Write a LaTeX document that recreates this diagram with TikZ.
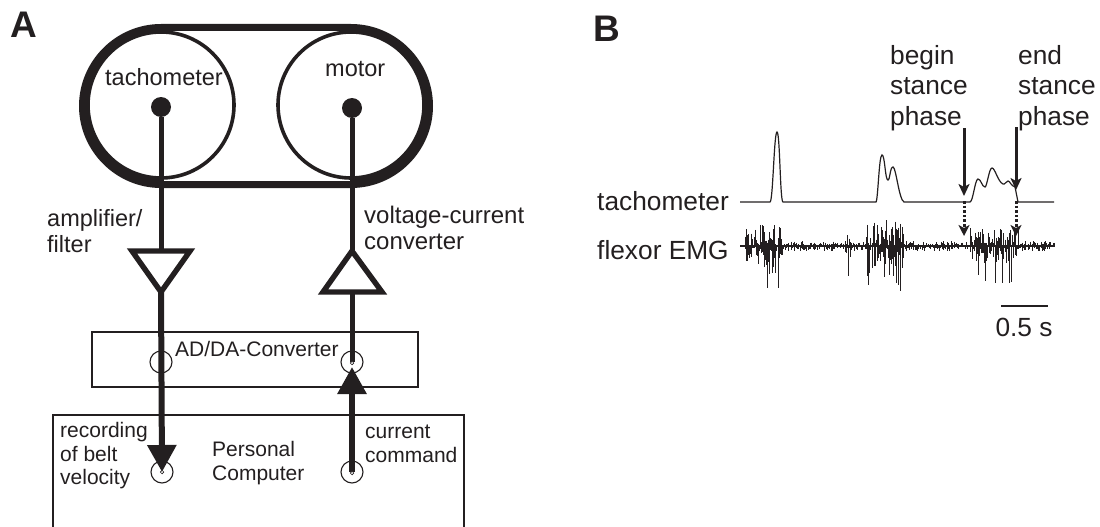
\documentclass[tikz,border=0pt]{standalone}
\usepackage{fontspec}
\setmainfont{Liberation Sans}
\usetikzlibrary{arrows.meta}
\definecolor{ink}{HTML}{231F20}

\begin{document}
\begin{tikzpicture}[x=1pt,y=-1pt,color=ink,
  pulley/.style={circle,draw,fill=white,line width=3.6pt,minimum size=146pt,inner sep=0pt},
  hub/.style={circle,fill,minimum size=20pt,inner sep=0pt},
  jack/.style={circle,draw,line width=1.1pt,minimum size=22pt,inner sep=0pt},
  pin/.style={circle,draw,fill=white,line width=.7pt,minimum size=3.5pt,inner sep=0pt},
  box line/.style={line width=2.4pt},
  amp/.style={line width=5.4pt,miter limit=4},
  wire/.style={line width=5pt},
  big tip/.style={-{Triangle[length=27pt,width=28pt]}},
  small tip/.style={-{Stealth[length=12pt,width=11pt,inset=3pt]},line width=3pt},
  dot tip/.style={-{Stealth[length=11pt,width=11pt,inset=3pt]},line width=3pt,dash pattern=on 2.6pt off 2pt},
  label/.style={inner sep=0pt,anchor=west,align=left,font=\fontsize{21}{23.5}\selectfont},
  big label/.style={label,font=\fontsize{23.5}{26}\selectfont},
  trace label/.style={inner sep=0pt,anchor=west,align=left,font=\fontsize{26.3}{30.5}\selectfont},
  panel/.style={inner sep=0pt,font=\fontsize{37}{37}\selectfont\bfseries}]
  \useasboundingbox (0,0) rectangle (1100,527);

  % panel A
  \node[panel] (A) at (24,25) {A};
  \node[panel] (B) at (607,29) {B};

  \fill (161,24) -- (351,24) .. controls (396,24) and (433,61) .. (433,106)
    .. controls (433,151) and (396,188) .. (351,188) -- (161,188)
    .. controls (116,188) and (79,151) .. (79,106) .. controls (79,61) and (116,24) .. (161,24) -- cycle;
  \fill[white] (161,31.5) rectangle (351,180.5);
  \node[pulley] (tachpulley) at (161,105) {};
  \node[pulley] (motorpulley) at (351,105) {};
  \node[hub] (tachhub) at (161,107) {};
  \node[hub] (motorhub) at (352,108) {};
  \node[big label] (tachlabel) at (105,77) {tachometer};
  \node[big label] (motorlabel) at (325,69) {motor};

  \coordinate (ampin) at (161,251);
  \coordinate (ampout) at (161,292);
  \coordinate (vccin) at (352,292);
  \coordinate (vccout) at (352,251);
  \draw[amp] (132,251) -- (190,251) -- (ampout) -- cycle;
  \draw[amp] (323,292) -- (382,292) -- (vccout) -- cycle;
  \node[big label] (amplabel) at (47,231) {amplifier/\\filter};
  \node[big label,font=\fontsize{24}{26}\selectfont] (vcclabel) at (364,228) {voltage-current\\converter};

  \draw[box line] (92,332) rectangle (418,387);
  \draw[box line] (53,527) -- (53,415) -- (464,415) -- (464,527);
  \node[label] (adlabel) at (175,349) {AD/DA-Converter};
  \node[label] (reclabel) at (60,456) {recording\\of belt\\velocity};
  \node[label] (pclabel) at (212,463) {Personal\\Computer};
  \node[label] (cmdlabel) at (365,444) {current\\command};

  \node[jack] (adin) at (161,362) {};
  \node[jack] (adout) at (352,362) {};
  \node[jack] (pcin) at (162,472) {};
  \node[jack] (pcout) at (352,472) {};

  \draw[wire] (tachhub) -- (ampin);
  \draw[wire] (motorhub) -- (vccout);
  \draw[wire,line width=6pt,big tip] (ampout) -- (pcin.center);
  \draw[wire] (vccin) -- (adout.center);
  \draw[wire,line width=6pt,big tip] (pcout.center) -- (352,367);
  \node[pin] (adoutpin) at (352,363) {};
  \node[pin] (pcinpin) at (162,472) {};
  \node[pin] (pcoutpin) at (352,473) {};

  % panel B
  \node[trace label] (tachtrace) at (597,201) {tachometer};
  \node[trace label] (emgtrace) at (597,250) {flexor EMG};
  \node[trace label] (beginlabel) at (890,88) {begin\\stance\\phase};
  \node[trace label] (endlabel) at (1018,88) {end\\stance\\phase};

  \draw[line width=1.2pt] (740,202) -- (770,202) .. controls (773,202) and (774,132) .. (777,132)
    .. controls (780,132) and (780,202) .. (783,202) -- (876,202)
    .. controls (878,200) and (879,155) .. (882,155) .. controls (885,155) and (885,180) .. (888,180)
    .. controls (890,180) and (890,167) .. (893,167) .. controls (896,167) and (899,200) .. (904,202)
    -- (970,202) .. controls (973,202) and (975,179) .. (978,179) .. controls (981,179) and (982,187) .. (985,187)
    .. controls (987,187) and (989,168) .. (992,168) .. controls (995,168) and (998,182) .. (1003,184)
    .. controls (1005,185) and (1006,181) .. (1008,181) .. controls (1010,181) and (1011,186) .. (1015,187)
    -- (1018,202) -- (1054,202);

  \pgfmathsetseed{41}
  \draw[line width=1.8pt] (740,246) -- (1054,246);
  \foreach \bx/\ex/\amp in {745/782/22,782/845/5,845/850/12,850/866/5,866/903/27,903/970/5,970/1018/18,1018/1054/5}
    \foreach \x in {\bx,...,\ex} {
      \pgfmathsetmacro{\up}{246-\amp*rnd^1.4}
      \pgfmathsetmacro{\dn}{246+\amp*rnd^1.4}
      \draw[line width=.9pt] (\x,\up) -- (\x,\dn);
    }
  \foreach \x/\dn in {749/258,767/288,769/274,772/273,775/273,778/288,
    848/276,867/276,868/285,875/266,884/277,889/275,893/276,
    896/283,898/285,900/291,978/275,985/281,995/283,1002/283,1009/283,1011/282}
    \draw[line width=1pt] (\x,246) -- (\x,\dn);

  \coordinate (beginfrom) at (964,128);
  \coordinate (beginto) at (964,196);
  \coordinate (endfrom) at (1016,127);
  \coordinate (endto) at (1016,190);
  \coordinate (begindot) at (964,201);
  \coordinate (begindotto) at (964,236);
  \coordinate (enddot) at (1016,201);
  \coordinate (enddotto) at (1016,236);
  \draw[small tip] (beginfrom) -- (beginto);
  \draw[small tip] (endfrom) -- (endto);
  \draw[dot tip] (begindot) -- (begindotto);
  \draw[dot tip] (enddot) -- (enddotto);

  \coordinate (barleft) at (1001,306);
  \coordinate (barright) at (1048,306);
  \draw[line width=2.4pt] (barleft) -- (barright);
  \node[trace label,anchor=center] (barlabel) at (1024,327) {0.5 s};
\end{tikzpicture}
\end{document}
